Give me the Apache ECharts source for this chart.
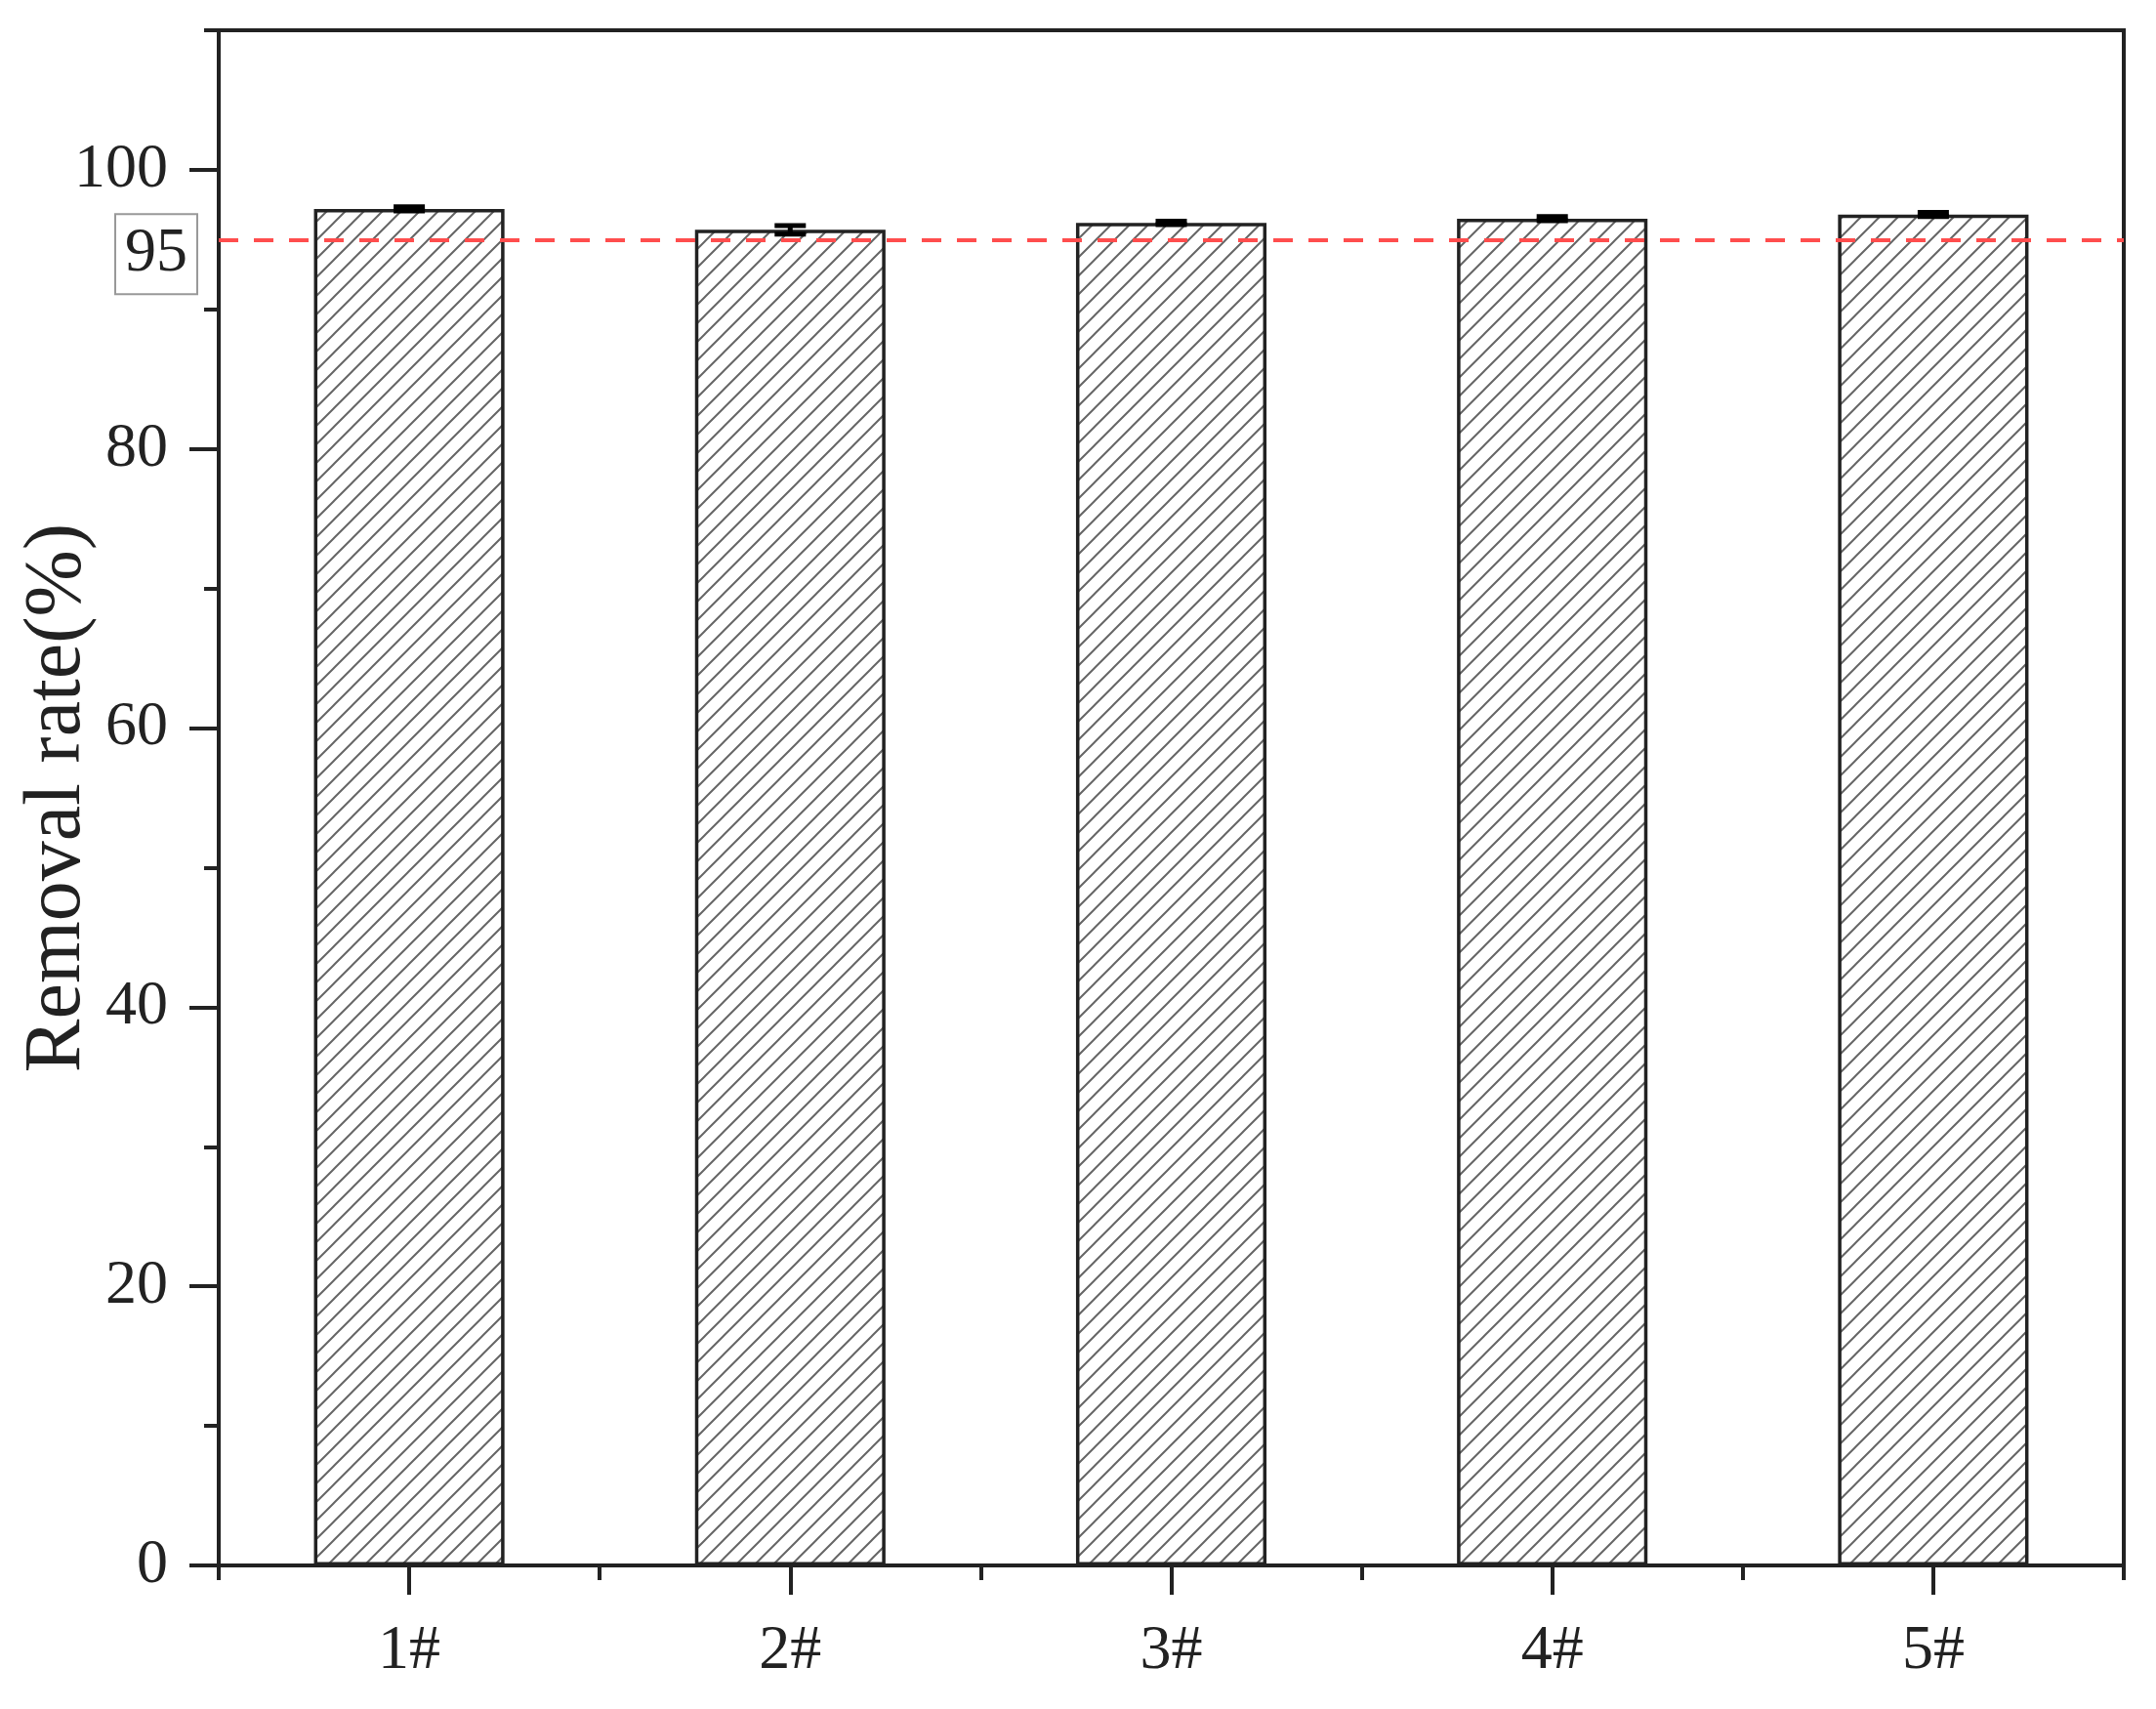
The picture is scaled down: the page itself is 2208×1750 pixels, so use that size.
<!DOCTYPE html>
<html>
<head>
<meta charset="utf-8">
<script src="https://cdn.jsdelivr.net/npm/echarts@6/dist/echarts.min.js"></script>
<style>html,body{margin:0;padding:0;background:#fff}#c{width:2208px;height:1750px}</style>
</head>
<body>
<div id="c"></div>
<script>
// ---- data ----
const categories = ['1#', '2#', '3#', '4#', '5#'];
const removalRate = [97.2, 95.7, 96.2, 96.5, 96.8];
const errors = [0.15, 0.3, 0.12, 0.15, 0.15];
const thresholdValue = 95;
const majorTicks = [0, 20, 40, 60, 80, 100];
const minorTicks = [10, 30, 50, 70, 90, 110];
const yMin = 0, yMax = 110;
const yTitle = 'Removal rate(%)';

// ---- hatch pattern ----
function hatch() {
  const s = 19;
  const c = document.createElement('canvas');
  c.width = s; c.height = s;
  const g = c.getContext('2d');
  g.fillStyle = '#fff'; g.fillRect(0, 0, s, s);
  g.strokeStyle = '#666'; g.lineWidth = 2;
  g.beginPath();
  g.moveTo(-2, s + 2); g.lineTo(s + 2, -2);
  g.moveTo(-2, 2); g.lineTo(2, -2);
  g.moveTo(s - 2, s + 2); g.lineTo(s + 2, s - 2);
  g.stroke();
  return c;
}

const serif = '"Liberation Serif", "Times New Roman", serif';
const chart = echarts.init(document.getElementById('c'), null, {renderer: 'canvas'});

const option = {
  animation: false,
  backgroundColor: '#fff',
  grid: {left: 224, right: 33, top: 31, bottom: 147, containLabel: false, outerBoundsMode: 'none',
         show: true, borderColor: '#222', borderWidth: 4, backgroundColor: 'transparent'},
  xAxis: [
    {
      type: 'category', data: categories, position: 'bottom', offset: 0,
      axisLine: {show: true, lineStyle: {color: '#222', width: 4}},
      axisTick: {show: true, alignWithLabel: true, length: 30, lineStyle: {color: '#222', width: 4}},
      axisLabel: {show: true, fontFamily: serif, fontSize: 64, color: '#222', margin: 56}
    },
    {
      type: 'category', data: categories, position: 'bottom', offset: 0,
      axisLine: {show: false},
      axisTick: {show: true, alignWithLabel: false, length: 15, lineStyle: {color: '#222', width: 4}},
      axisLabel: {show: false}
    }
  ],
  yAxis: [
    {
      type: 'value', min: yMin, max: yMax, position: 'left', offset: 0,
      name: yTitle, nameLocation: 'middle', nameGap: 124, nameMoveOverlap: false,
      nameTextStyle: {fontFamily: serif, fontSize: 82, color: '#222'},
      axisLine: {show: true, lineStyle: {color: '#222', width: 4}},
      axisTick: {show: true, length: 30, customValues: majorTicks, lineStyle: {color: '#222', width: 4}},
      axisLabel: {customValues: majorTicks, fontFamily: serif, fontSize: 64, color: '#222', margin: 52},
      splitLine: {show: false}
    },
    {
      type: 'value', min: yMin, max: yMax, position: 'left', offset: 0,
      axisLine: {show: false},
      axisTick: {show: true, length: 15, customValues: minorTicks, lineStyle: {color: '#222', width: 4}},
      axisLabel: {show: false},
      splitLine: {show: false}
    }
  ],
  series: [
    {
      type: 'bar', data: removalRate, barWidth: '50%', xAxisIndex: 0, yAxisIndex: 0,
      itemStyle: {color: {image: hatch(), repeat: 'repeat'}, borderColor: '#222', borderWidth: 3.5},
      markLine: {
        silent: true, symbol: ['none', 'none'],
        lineStyle: {color: '#ff4d4d', width: 4, type: [20, 16]},
        label: {
          show: true, position: 'start', formatter: String(thresholdValue),
          fontFamily: serif, fontSize: 64, color: '#222',
          borderColor: '#999', borderWidth: 2, padding: [12, 10, 6, 10],
          distance: 22, offset: [0, 15]
        },
        data: [{yAxis: thresholdValue}]
      },
      z: 2
    },
    {
      type: 'custom', xAxisIndex: 0, yAxisIndex: 0, z: 5,
      data: removalRate.map((v, i) => [i, v, errors[i]]),
      renderItem: function (params, api) {
        const x = api.value(0), v = api.value(1), e = api.value(2);
        const hi = api.coord([x, v + e]), lo = api.coord([x, v - e]);
        const w = 16;
        const st = {stroke: '#000', lineWidth: 5};
        return {type: 'group', children: [
          {type: 'line', shape: {x1: hi[0], y1: hi[1], x2: lo[0], y2: lo[1]}, style: st},
          {type: 'line', shape: {x1: hi[0] - w, y1: hi[1], x2: hi[0] + w, y2: hi[1]}, style: st},
          {type: 'line', shape: {x1: lo[0] - w, y1: lo[1], x2: lo[0] + w, y2: lo[1]}, style: st}
        ]};
      }
    }
  ]
};
chart.setOption(option);
</script>
</body>
</html>
